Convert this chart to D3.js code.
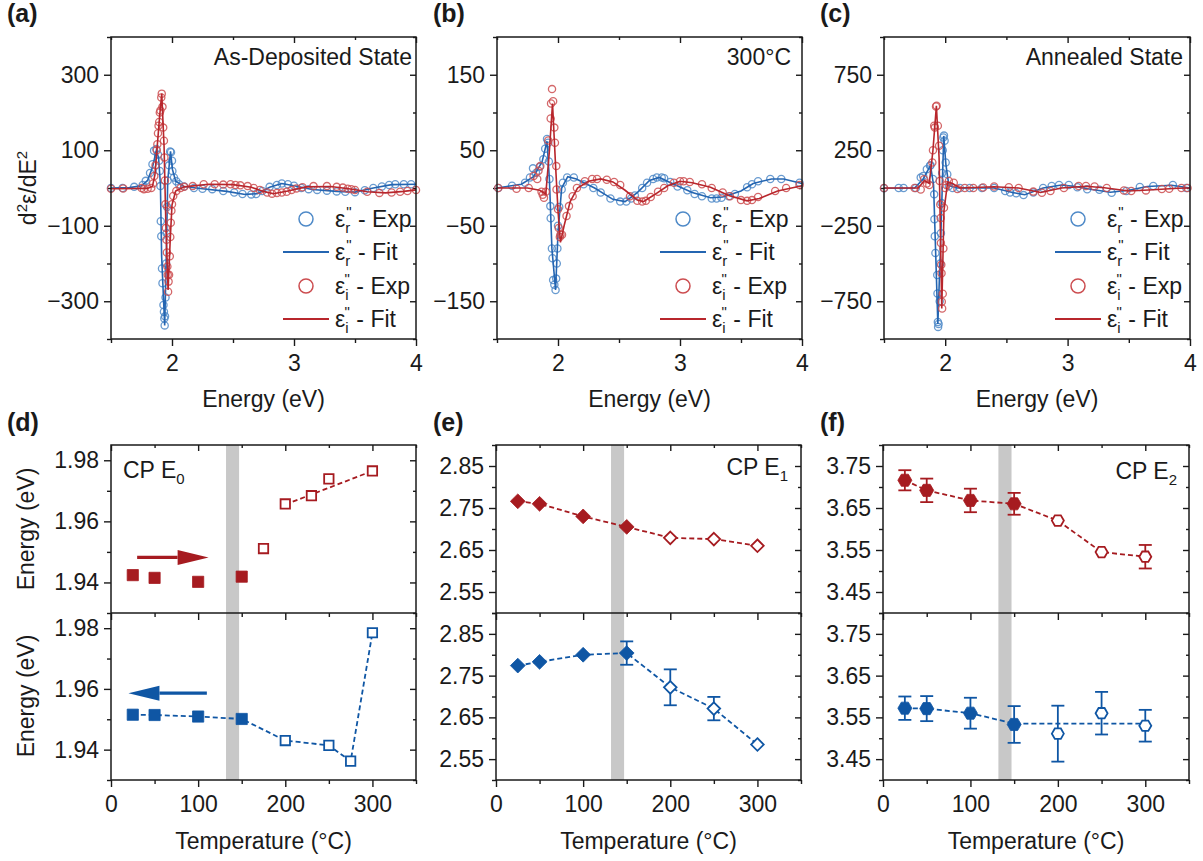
<!DOCTYPE html>
<html><head><meta charset="utf-8">
<script src="https://cdn.jsdelivr.net/npm/d3@7"></script>
<style>
body{margin:0;background:#fff;}
svg{display:block;font-family:"Liberation Sans",Arial,sans-serif;}
.tick text{font-size:23px;fill:#1a1a1a;}
.tick line{stroke:#1a1a1a;stroke-width:1.4;}
</style></head><body><script>
// ---------- shared axis values ----------
const energyDomain=[1.5,4];
const energyTicks=[2,3,4];
const energyMinor=[1.5,2.5,3.5];
const tempDomain=[0,350];
const tempTicks=[0,100,200,300];
const tempMinor=[50,150,250,350];
const transitionBand=[132,147];

// ---------- (a) As-deposited spectra ----------
const stateLabels=["As-Deposited State","300°C","Annealed State"];
const yTicksA=[-300,-100,100,300], yMinorA=[-400,-200,0,200,400];
const erExpA=[[1.50,0],[1.595,0],[1.69,3],[1.76,8],[1.785,19],[1.82,40],[1.84,63],[1.853,99],[1.872,103],[1.885,88],[1.894,72],[1.90,45],[1.905,5],[1.908,-88],[1.912,-128],[1.918,-213],[1.922,-252],[1.93,-310],[1.934,-328],[1.937,-346],[1.94,-364],[1.943,-340],[1.947,-290],[1.952,-200],[1.956,-120],[1.96,-50],[1.965,20],[1.975,60],[1.985,97],[1.992,95],[2.0,72],[2.003,45],[2.016,28],[2.035,18],[2.057,10],[2.1,4],[2.18,0],[2.25,-2],[2.33,-3],[2.42,-8],[2.51,-12],[2.578,-16],[2.65,-17],[2.69,-16],[2.74,-8],[2.8,3],[2.86,8],[2.9,12],[2.95,10],[3.0,6],[3.06,0],[3.12,-3],[3.19,-5],[3.27,-7],[3.35,-9],[3.42,-10],[3.5,-11],[3.58,-6],[3.65,0],[3.72,4],[3.78,8],[3.83,10],[3.9,10],[3.96,10]];
const erFitA=[[1.5,0],[1.65,1],[1.75,6],[1.8,20],[1.84,55],[1.872,100],[1.89,80],[1.905,10],[1.915,-180],[1.94,-364],[1.952,-200],[1.965,20],[1.988,97],[2.003,50],[2.03,18],[2.1,4],[2.25,-2],[2.45,-9],[2.6,-17],[2.7,-15],[2.8,2],[2.9,12],[3.0,6],[3.15,-4],[3.35,-9],[3.5,-11],[3.65,0],[3.8,9],[4.0,10]];
const eiExpA=[[1.50,-2],[1.60,-1],[1.75,0],[1.77,-3],[1.80,-2],[1.83,0],[1.845,12],[1.855,32],[1.865,60],[1.875,100],[1.88,116],[1.885,145],[1.89,165],[1.895,175],[1.90,200],[1.905,205],[1.912,240],[1.916,250],[1.922,215],[1.928,160],[1.934,125],[1.938,81],[1.942,20],[1.946,-43],[1.95,-106],[1.955,-137],[1.958,-171],[1.962,-208],[1.965,-230],[1.968,-275],[1.972,-248],[1.976,-230],[1.982,-181],[1.986,-130],[1.99,-92],[1.995,-60],[2.0,-43],[2.01,-21],[2.035,-8],[2.07,0],[2.1,3],[2.17,5],[2.26,10],[2.35,10],[2.42,9],[2.48,10],[2.52,8],[2.56,7],[2.62,5],[2.67,0],[2.72,-5],[2.78,-12],[2.82,-15],[2.86,-13],[2.90,-12],[2.94,-10],[2.98,-5],[3.02,-1],[3.07,2],[3.16,5],[3.27,5],[3.35,3],[3.40,1],[3.44,-2],[3.47,-3],[3.5,-5],[3.6,-10],[3.7,-13],[3.8,-12],[3.87,-10],[3.93,-8],[4.0,-5]];
const eiFitA=[[1.5,-2],[1.8,-1],[1.84,5],[1.86,35],[1.88,115],[1.9,195],[1.916,250],[1.935,110],[1.95,-100],[1.968,-270],[1.985,-140],[2.0,-45],[2.03,-8],[2.1,3],[2.3,10],[2.5,9],[2.65,2],[2.75,-9],[2.83,-15],[2.95,-8],[3.1,3],[3.3,4],[3.45,-2],[3.6,-10],[3.75,-13],[3.9,-9],[4.0,-5]];

// ---------- (b) 300 °C spectra ----------
const yTicksB=[-150,-50,50,150], yMinorB=[-200,-100,0,100,200];
const erExpB=[[1.51,0],[1.623,3],[1.73,7],[1.77,14],[1.795,26],[1.82,20],[1.85,28],[1.88,38],[1.895,52],[1.91,65],[1.92,60],[1.925,35],[1.93,12],[1.937,-24],[1.94,-40],[1.95,-80],[1.955,-93],[1.96,-122],[1.97,-128],[1.98,-135],[1.985,-120],[1.99,-100],[1.995,-80],[2.0,-50],[2.01,-25],[2.03,-2],[2.04,7],[2.075,14],[2.13,14],[2.21,5],[2.29,0],[2.35,-6],[2.43,-14],[2.51,-18],[2.56,-18],[2.6,-14],[2.63,-10],[2.69,0],[2.73,7],[2.78,12],[2.81,14],[2.85,14],[2.87,13],[2.92,8],[2.98,2],[3.06,-3],[3.12,-8],[3.18,-11],[3.26,-14],[3.3,-14],[3.34,-13],[3.4,-11],[3.45,-8],[3.55,1],[3.59,5],[3.64,9],[3.74,12],[3.83,12],[3.98,7]];
const erFitB=[[1.5,0],[1.7,5],[1.8,15],[1.87,35],[1.91,62],[1.93,10],[1.95,-80],[1.98,-135],[2.0,-60],[2.03,0],[2.08,15],[2.15,12],[2.3,0],[2.45,-15],[2.55,-18],[2.65,-6],[2.75,10],[2.83,14],[2.95,5],[3.1,-6],[3.25,-13],[3.35,-12],[3.5,-4],[3.6,6],[3.75,12],[3.85,12],[4.0,6]];
const eiExpB=[[1.51,0],[1.66,-1],[1.76,0],[1.80,16],[1.83,12],[1.84,23],[1.855,29],[1.865,-5],[1.875,-9],[1.885,-13],[1.90,-5],[1.92,63],[1.94,92],[1.943,112],[1.951,131],[1.96,115],[1.97,80],[1.975,60],[1.986,29],[1.988,-2],[2.0,-28],[2.006,-53],[2.015,-65],[2.02,-62],[2.033,-62],[2.07,-37],[2.09,-24],[2.12,-11],[2.155,0],[2.22,9],[2.28,12],[2.32,12],[2.4,11],[2.46,8],[2.51,4],[2.59,-11],[2.65,-17],[2.69,-18],[2.72,-17],[2.76,-12],[2.82,-5],[2.87,0],[2.95,7],[3.0,9],[3.03,9],[3.08,8],[3.18,5],[3.26,0],[3.35,-6],[3.41,-11],[3.5,-16],[3.55,-17],[3.59,-16],[3.64,-12],[3.78,-4],[3.87,0],[3.98,4]];
const eiFitB=[[1.5,0],[1.75,0],[1.85,-3],[1.9,-8],[1.93,50],[1.955,112],[1.98,30],[2.0,-30],[2.02,-72],[2.05,-50],[2.1,-18],[2.16,0],[2.25,9],[2.35,12],[2.45,8],[2.55,-3],[2.65,-16],[2.7,-18],[2.78,-10],[2.9,3],[3.0,9],[3.1,7],[3.25,1],[3.4,-10],[3.55,-17],[3.65,-14],[3.8,-4],[4.0,3]];

// ---------- (c) Annealed spectra ----------
const yTicksC=[-750,-250,250,750], yMinorC=[-1000,-500,0,500,1000];
const erExpC=[[1.50,-2],[1.62,0],[1.66,0],[1.76,0],[1.80,69],[1.82,80],[1.85,124],[1.876,147],[1.88,150],[1.90,60],[1.91,-42],[1.912,-207],[1.915,-320],[1.92,-430],[1.935,-576],[1.937,-698],[1.94,-887],[1.942,-920],[1.946,-900],[1.955,-750],[1.96,-500],[1.965,-300],[1.97,-100],[1.975,100],[1.98,250],[1.985,335],[1.99,347],[1.995,313],[2.004,169],[2.017,91],[2.03,13],[2.06,0],[2.12,0],[2.2,0],[2.3,0],[2.4,0],[2.49,-20],[2.53,-30],[2.58,-35],[2.64,-47],[2.72,-30],[2.8,0],[2.87,13],[2.93,20],[3.01,20],[3.08,5],[3.16,-9],[3.26,-12],[3.36,-31],[3.48,-20],[3.59,7],[3.7,13],[3.86,20],[3.97,0]];
const erFitC=[[1.5,-2],[1.75,0],[1.82,60],[1.88,150],[1.905,20],[1.94,-900],[1.965,-300],[1.988,345],[2.005,160],[2.03,15],[2.1,0],[2.4,0],[2.55,-30],[2.65,-45],[2.8,0],[2.95,20],[3.05,12],[3.2,-10],[3.35,-28],[3.5,-15],[3.65,10],[3.85,18],[4.0,0]];
const eiExpC=[[1.50,0],[1.75,0],[1.80,-10],[1.827,58],[1.85,30],[1.87,20],[1.895,169],[1.90,250],[1.91,413],[1.915,400],[1.925,540],[1.93,545],[1.94,413],[1.95,280],[1.955,47],[1.96,-109],[1.963,-198],[1.965,-364],[1.968,-509],[1.97,-564],[1.972,-753],[1.975,-798],[1.98,-700],[1.985,-400],[1.99,-131],[2.0,0],[2.01,20],[2.03,47],[2.07,35],[2.1,-7],[2.16,0],[2.23,0],[2.31,3],[2.4,10],[2.52,5],[2.6,0],[2.72,-24],[2.79,-31],[2.86,-20],[2.97,0],[3.09,13],[3.15,13],[3.22,10],[3.32,0],[3.46,-16],[3.52,-20],[3.64,-16],[3.77,-7],[3.83,-5],[3.93,0],[3.98,0]];
const eiFitC=[[1.5,0],[1.78,0],[1.83,50],[1.87,30],[1.9,250],[1.928,545],[1.95,200],[1.972,-798],[1.99,-150],[2.02,40],[2.06,30],[2.12,0],[2.4,8],[2.6,0],[2.78,-30],[2.95,0],[3.15,12],[3.3,2],[3.5,-20],[3.7,-12],[3.9,-2],[4.0,0]];

const legendSubs=["r","r","i","i"];
const legendLabels=["Exp","Fit","Exp","Fit"];

// ---------- (d) CP E0 ----------
const yTicksD=[1.94,1.96,1.98], yMinorD=[1.93,1.95,1.97];
const e0HeatT=[25,50,100,150,175,200,230,250,300];
const e0HeatE=[1.9424,1.9415,1.9402,1.9419,1.9511,1.9657,1.9684,1.9739,1.9765];
const e0HeatLineT=[200,300];
const e0HeatLineE=[1.9655,1.9765];
const e0CoolT=[25,50,100,150,200,250,275,300];
const e0CoolE=[1.9515,1.9514,1.9509,1.9501,1.9430,1.9414,1.9362,1.9785];

// ---------- (e) CP E1 ----------
const yTicksE=[2.55,2.65,2.75,2.85], yMinorE=[2.5,2.6,2.7,2.8,2.9];
const e1T=[25,50,100,150,200,250,300];
const e1HeatE=[2.766,2.760,2.730,2.705,2.679,2.676,2.660];
const e1HeatErr=[0,0,0,0,0,0,0];
const e1CoolE=[2.774,2.783,2.800,2.804,2.722,2.671,2.585];
const e1CoolErr=[0,0,0,0.028,0.043,0.028,0];

// ---------- (f) CP E2 ----------
const yTicksF=[3.45,3.55,3.65,3.75], yMinorF=[3.4,3.5,3.6,3.7,3.8];
const e2T=[25,50,100,150,200,250,300];
const e2HeatE=[3.716,3.692,3.668,3.660,3.620,3.545,3.534];
const e2HeatErr=[0.024,0.028,0.028,0.026,0,0,0.028];
const e2CoolE=[3.572,3.571,3.560,3.533,3.511,3.560,3.530];
const e2CoolErr=[0.028,0.030,0.037,0.044,0.067,0.051,0.038];
const e2CoolLineT=[25,50,100,150,300];
const e2CoolLineE=[3.572,3.571,3.560,3.535,3.535];

// ================= drawing =================
const W=1203,H=861;
const FS=23;
const INK="#1a1a1a";
const BLUE_EXP="#4f8ac8", RED_EXP="#cc4d50", BLUE_FIT="#2465b1", RED_FIT="#b8262c";
const BLUE="#0f56a4", RED="#a61b20";
const svg=d3.select("body").append("svg").attr("width",W).attr("height",H);

const TOP_Y0=37, TOP_Y1=339, BOT_Y0=445, MID_Y=613, BOT_Y1=780;

function axis(g, fn, scale, vals, size, fmt, tx, ty, pad){
  const a=fn(scale).tickValues(vals).tickSize(size).tickPadding(pad==null?5:pad);
  if(fmt===null) a.tickFormat(""); else if(fmt) a.tickFormat(fmt);
  const gg=g.append("g").attr("transform",`translate(${tx},${ty})`).call(a);
  gg.select(".domain").remove();
  return gg;
}

function frameAxes(g, x, y, o){
  const [x0,x1]=x.range(); const [yb,yt]=y.range();
  axis(g,d3.axisLeft,y,o.yTicks,7,o.yFmt,x0,0,5);
  axis(g,d3.axisLeft,y,o.yMinor,4,null,x0,0);
  axis(g,d3.axisLeft,y,o.yTicks,6,null,x1,0);
  axis(g,d3.axisLeft,y,o.yMinor,3,null,x1,0);
  if(o.top){
    axis(g,d3.axisBottom,x,o.xTicks,6,null,0,yt);
    axis(g,d3.axisBottom,x,o.xMinor,3,null,0,yt);
  }
  axis(g,d3.axisBottom,x,o.xTicks,7,o.xLabels?o.xFmt:null,0,yb,9);
  axis(g,d3.axisBottom,x,o.xMinor,4,null,0,yb);
}

function legendText(g,x,yb,sub,label){
  const t=g.append("text").attr("x",x).attr("y",yb).attr("font-size",FS).attr("fill",INK);
  t.append("tspan").text("ε");
  t.append("tspan").attr("font-size",15).attr("dy",6).text(sub);
  t.append("tspan").attr("font-size",15).attr("dx",-4).attr("dy",-16).text('"');
  t.append("tspan").attr("dy",10).text(" - "+label);
}

function spectrum(p){
  const x=d3.scaleLinear().domain(energyDomain).range([p.x0,p.x1]);
  const y=d3.scaleLinear().domain(p.yDomain).range([TOP_Y1,TOP_Y0]);
  const g=svg.append("g");
  frameAxes(g,x,y,{yTicks:p.yTicks,yMinor:p.yMinor,yFmt:d3.format("d"),xTicks:energyTicks,xMinor:energyMinor,xLabels:true,xFmt:d3.format("d"),top:true});
  const line=d3.line().x(d=>x(d[0])).y(d=>y(d[1]));
  const circ=(data,color)=>g.append("g").selectAll("circle").data(data).join("circle")
    .attr("cx",d=>x(d[0])).attr("cy",d=>y(d[1])).attr("r",3.6)
    .attr("fill","none").attr("stroke",color).attr("stroke-width",1.3).attr("stroke-opacity",0.85);
  circ(p.erExp,BLUE_EXP);
  g.append("path").datum(p.erFit).attr("d",line).attr("fill","none").attr("stroke",BLUE_FIT).attr("stroke-width",1.6);
  circ(p.eiExp,RED_EXP);
  g.append("path").datum(p.eiFit).attr("d",line).attr("fill","none").attr("stroke",RED_FIT).attr("stroke-width",1.6);
  g.append("rect").attr("x",p.x0).attr("y",TOP_Y0).attr("width",p.x1-p.x0).attr("height",TOP_Y1-TOP_Y0)
    .attr("fill","none").attr("stroke",INK).attr("stroke-width",1.5);
  g.append("text").attr("x",p.x1-p.stateDx).attr("y",65).attr("text-anchor","end").attr("font-size",FS).attr("fill",INK).text(p.state);
  const rows=[219,252,286,319];
  const colors=[BLUE_EXP,BLUE_FIT,RED_EXP,RED_FIT];
  rows.forEach((ry,i)=>{
    if(i%2===0){
      g.append("circle").attr("cx",p.x1-p.legC).attr("cy",ry).attr("r",7).attr("fill","none").attr("stroke",colors[i]).attr("stroke-width",1.5);
    } else {
      g.append("line").attr("x1",p.x1-p.legC-23).attr("x2",p.x1-p.legC+23).attr("y1",ry).attr("y2",ry).attr("stroke",colors[i]).attr("stroke-width",1.8);
    }
    legendText(g,p.x1-p.legC+29,ry+8,legendSubs[i],legendLabels[i]);
  });
  g.append("text").attr("x",p.labX).attr("y",22).attr("font-size",25).attr("font-weight","bold").attr("fill",INK).text(p.label);
  g.append("text").attr("x",(p.x0+p.x1)/2).attr("y",407).attr("text-anchor","middle").attr("font-size",FS).attr("fill",INK).text("Energy (eV)");
}

spectrum({x0:111,x1:416,yDomain:[-400,400],yTicks:yTicksA,yMinor:yMinorA,erExp:erExpA,erFit:erFitA,eiExp:eiExpA,eiFit:eiFitA,state:stateLabels[0],stateDx:4,legC:110,label:"(a)",labX:7});
spectrum({x0:497,x1:802,yDomain:[-200,200],yTicks:yTicksB,yMinor:yMinorB,erExp:erExpB,erFit:erFitB,eiExp:eiExpB,eiFit:eiFitB,state:stateLabels[1],stateDx:11,legC:119,label:"(b)",labX:433});
spectrum({x0:884,x1:1190,yDomain:[-1000,1000],yTicks:yTicksC,yMinor:yMinorC,erExp:erExpC,erFit:erFitC,eiExp:eiExpC,eiFit:eiFitC,state:stateLabels[2],stateDx:7,legC:112,label:"(c)",labX:820});

{
  const t=svg.append("text").attr("transform","translate(36,188) rotate(-90)").attr("text-anchor","middle").attr("font-size",FS).attr("fill",INK);
  t.append("tspan").text("d");
  t.append("tspan").attr("font-size",15).attr("dy",-9).text("2");
  t.append("tspan").attr("dy",9).text("ε/dE");
  t.append("tspan").attr("font-size",15).attr("dy",-9).text("2");
}

// ---------- CP panels ----------
function shapePath(type,s){
  if(type==="square") return `M${-s},${-s}H${s}V${s}H${-s}Z`;
  if(type==="diamond") return `M0,${-s}L${s},0L0,${s}L${-s},0Z`;
  const pts=d3.range(6).map(k=>[s*Math.cos(k*Math.PI/3),s*Math.sin(k*Math.PI/3)]);
  return "M"+pts.map(p=>p.join(",")).join("L")+"Z";
}
const shapeSize={square:[5.6,4.7],diamond:[7.4,6.3],hexagon:[7,6]};

function series(g,x,y,s,color,shape){
  const dash="5,3";
  if(s.lineT){
    const pts=s.lineT.map((t,i)=>[t,s.lineE[i]]);
    g.append("path").datum(pts).attr("d",d3.line().x(d=>x(d[0])).y(d=>y(d[1])))
      .attr("fill","none").attr("stroke",color).attr("stroke-width",1.8).attr("stroke-dasharray",dash);
  }
  const pts=s.T.map((t,i)=>({t,e:s.E[i],err:s.err?s.err[i]:0}));
  pts.filter(d=>d.err>0).forEach(d=>{
    const xx=x(d.t), ya=y(d.e+d.err), yb=y(d.e-d.err);
    g.append("line").attr("x1",xx).attr("x2",xx).attr("y1",ya).attr("y2",yb).attr("stroke",color).attr("stroke-width",1.8);
    [ya,yb].forEach(yy=>g.append("line").attr("x1",xx-6.5).attr("x2",xx+6.5).attr("y1",yy).attr("y2",yy).attr("stroke",color).attr("stroke-width",1.8));
  });
  const [sf,so]=shapeSize[shape];
  g.append("g").selectAll("path").data(pts).join("path")
    .attr("transform",d=>`translate(${x(d.t)},${y(d.e)})`)
    .attr("d",d=>shapePath(shape,d.t<=150?sf:so))
    .attr("fill",d=>d.t<=150?color:"#fff")
    .attr("stroke",color).attr("stroke-width",d=>d.t<=150?0.8:1.8);
}

function cpPanel(p){
  const x=d3.scaleLinear().domain(tempDomain).range([p.x0,p.x1]);
  const yT=d3.scaleLinear().domain(p.yDomain).range([MID_Y,BOT_Y0]);
  const yB=d3.scaleLinear().domain(p.yDomain).range([BOT_Y1,MID_Y]);
  const g=svg.append("g");
  g.append("rect").attr("x",x(transitionBand[0])).attr("y",BOT_Y0).attr("width",x(transitionBand[1])-x(transitionBand[0])).attr("height",BOT_Y1-BOT_Y0).attr("fill","#c8c8c8");
  const fmt=d3.format(".2f");
  frameAxes(g,x,yT,{yTicks:p.yTicks,yMinor:p.yMinor,yFmt:fmt,xTicks:tempTicks,xMinor:tempMinor,xLabels:false,top:true});
  frameAxes(g,x,yB,{yTicks:p.yTicks,yMinor:p.yMinor,yFmt:fmt,xTicks:tempTicks,xMinor:tempMinor,xLabels:true,xFmt:d3.format("d"),top:false});
  series(g,x,yT,p.heat,RED,p.shape);
  series(g,x,yB,p.cool,BLUE,p.shape);
  g.append("rect").attr("x",p.x0).attr("y",BOT_Y0).attr("width",p.x1-p.x0).attr("height",BOT_Y1-BOT_Y0).attr("fill","none").attr("stroke",INK).attr("stroke-width",1.5);
  g.append("line").attr("x1",p.x0).attr("x2",p.x1).attr("y1",MID_Y).attr("y2",MID_Y).attr("stroke",INK).attr("stroke-width",1.5);
  const t=g.append("text").attr("x",p.cpAnchor==="end"?p.x1-p.cpDx:p.x0+p.cpDx).attr("y",p.cpY).attr("text-anchor",p.cpAnchor).attr("font-size",FS).attr("fill",INK);
  t.append("tspan").text("CP E");
  t.append("tspan").attr("font-size",15).attr("dy",6).text(p.cpSub);
  g.append("text").attr("x",p.labX).attr("y",431).attr("font-size",25).attr("font-weight","bold").attr("fill",INK).text(p.label);
  g.append("text").attr("x",(p.x0+p.x1)/2).attr("y",849).attr("text-anchor","middle").attr("font-size",FS).attr("fill",INK).text("Temperature (°C)");
  return {x,yT,yB,g};
}

const d=cpPanel({x0:111,x1:416,yDomain:[1.93,1.985],yTicks:yTicksD,yMinor:yMinorD,shape:"square",
  heat:{T:e0HeatT,E:e0HeatE,lineT:e0HeatLineT,lineE:e0HeatLineE},
  cool:{T:e0CoolT,E:e0CoolE,lineT:e0CoolT,lineE:e0CoolE},
  cpAnchor:"start",cpDx:12,cpY:478,cpSub:"0",label:"(d)",labX:7});
cpPanel({x0:496,x1:801,yDomain:[2.5,2.9],yTicks:yTicksE,yMinor:yMinorE,shape:"diamond",
  heat:{T:e1T,E:e1HeatE,err:e1HeatErr,lineT:e1T,lineE:e1HeatE},
  cool:{T:e1T,E:e1CoolE,err:e1CoolErr,lineT:e1T,lineE:e1CoolE},
  cpAnchor:"end",cpDx:13,cpY:475,cpSub:"1",label:"(e)",labX:433});
cpPanel({x0:883,x1:1189,yDomain:[3.4,3.8],yTicks:yTicksF,yMinor:yMinorF,shape:"hexagon",
  heat:{T:e2T,E:e2HeatE,err:e2HeatErr,lineT:e2T,lineE:e2HeatE},
  cool:{T:e2T,E:e2CoolE,err:e2CoolErr,lineT:e2CoolLineT,lineE:e2CoolLineE},
  cpAnchor:"end",cpDx:12,cpY:479,cpSub:"2",label:"(f)",labX:820});

const heatArrow={from:30,to:112,E:1.9482};
const coolArrow={from:110,to:20,E:1.9586};
function arrow(g,x1,x2,yy,color){
  const dir=Math.sign(x2-x1), hl=31, hw=7.5;
  g.append("line").attr("x1",x1).attr("x2",x2-dir*hl).attr("y1",yy).attr("y2",yy).attr("stroke",color).attr("stroke-width",3.2);
  g.append("path").attr("d",`M${x2},${yy}L${x2-dir*hl},${yy-hw}L${x2-dir*hl},${yy+hw}Z`).attr("fill",color);
}
arrow(d.g,d.x(heatArrow.from),d.x(heatArrow.to),d.yT(heatArrow.E),RED);
arrow(d.g,d.x(coolArrow.from),d.x(coolArrow.to),d.yB(coolArrow.E),BLUE);

[529,696].forEach(cy=>{
  svg.append("text").attr("transform",`translate(34,${cy}) rotate(-90)`).attr("text-anchor","middle").attr("font-size",FS).attr("fill",INK).text("Energy (eV)");
});
</script></body></html>
